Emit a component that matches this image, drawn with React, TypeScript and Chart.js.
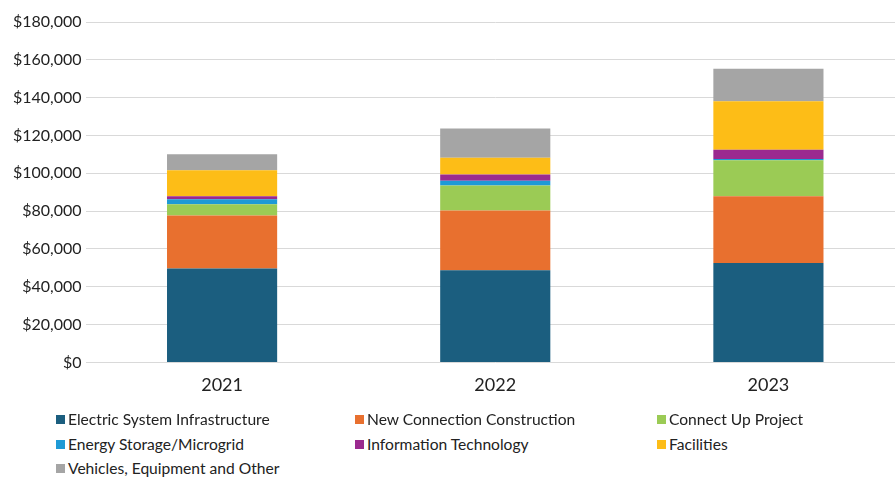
import React, { useEffect, useRef } from "react";
import { Chart, registerables } from "chart.js";

Chart.register(...registerables);

const years = ["2021", "2022", "2023"];
const electricSystem = [49600, 48700, 52600];
const newConnection = [28100, 31600, 35300];
const connectUp = [5900, 13200, 19000];
const energyStorage = [2700, 2500, 600];
const infoTech = [1600, 3400, 4900];
const facilities = [13700, 8800, 25700];
const vehicles = [8500, 15500, 17200];

const seriesNames = [
  "Electric System Infrastructure",
  "New Connection Construction",
  "Connect Up Project",
  "Energy Storage/Microgrid",
  "Information Technology",
  "Facilities",
  "Vehicles, Equipment and Other",
];
const seriesColors = ["#1b5e7f", "#e8702f", "#9bcb55", "#1e9ad6", "#9b2a8f", "#fdbd17", "#a5a5a5"];
const seriesData = [electricSystem, newConnection, connectUp, energyStorage, infoTech, facilities, vehicles];

const legendPos = [
  { x: 56, y: 419 },
  { x: 355, y: 419 },
  { x: 657, y: 419 },
  { x: 56, y: 444 },
  { x: 355, y: 444 },
  { x: 657, y: 444 },
  { x: 56, y: 468 },
];

export default function App() {
  const ref = useRef<HTMLCanvasElement | null>(null);
  useEffect(() => {
    document.body.style.margin = "0";
    const chart = new Chart(ref.current!, {
      type: "bar",
      data: {
        labels: years,
        datasets: seriesNames.map((n, i) => ({
          label: n,
          data: seriesData[i],
          backgroundColor: seriesColors[i],
          borderWidth: 0,
          categoryPercentage: 0.8,
          barPercentage: 0.504,
        })),
      },
      options: {
        animation: false,
        responsive: false,
        layout: { padding: { top: 22, bottom: 6, left: 0, right: 0 } },
        plugins: { legend: { display: false }, tooltip: { enabled: false } },
        scales: {
          x: {
            stacked: true,
            grid: { display: false, drawTicks: false },
            border: { display: false },
            ticks: { font: { family: "Lato", size: 18 }, color: "#222", padding: 12 },
          },
          y: {
            stacked: true,
            min: 0,
            max: 180000,
            afterFit: (s: any) => {
              s.width = 85.5;
            },
            border: { display: false },
            grid: { color: "#d9d9d9", drawTicks: false, lineWidth: 1 },
            ticks: {
              stepSize: 20000,
              padding: 4,
              font: { family: "Lato", size: 16 },
              color: "#222",
              callback: (v: any) => "$" + Number(v).toLocaleString("en-US"),
            },
          },
        },
      },
    });
    return () => chart.destroy();
  }, []);
  return (
    <div style={{ position: "relative", width: 895, height: 477, overflow: "hidden", background: "#fff" }}>
      <canvas ref={ref} width={905} height={414} style={{ position: "absolute", left: 0, top: 0 }} />
      {seriesNames.map((n, i) => (
        <div
          key={n}
          style={{
            position: "absolute",
            left: legendPos[i].x,
            top: legendPos[i].y - 10,
            height: 20,
            display: "flex",
            alignItems: "center",
            fontFamily: "Lato",
            fontSize: 15.6,
            color: "#222",
            whiteSpace: "nowrap",
          }}
        >
          <span style={{ display: "inline-block", width: 9, height: 9, background: seriesColors[i], marginRight: 3 }} />
          {n}
        </div>
      ))}
    </div>
  );
}
